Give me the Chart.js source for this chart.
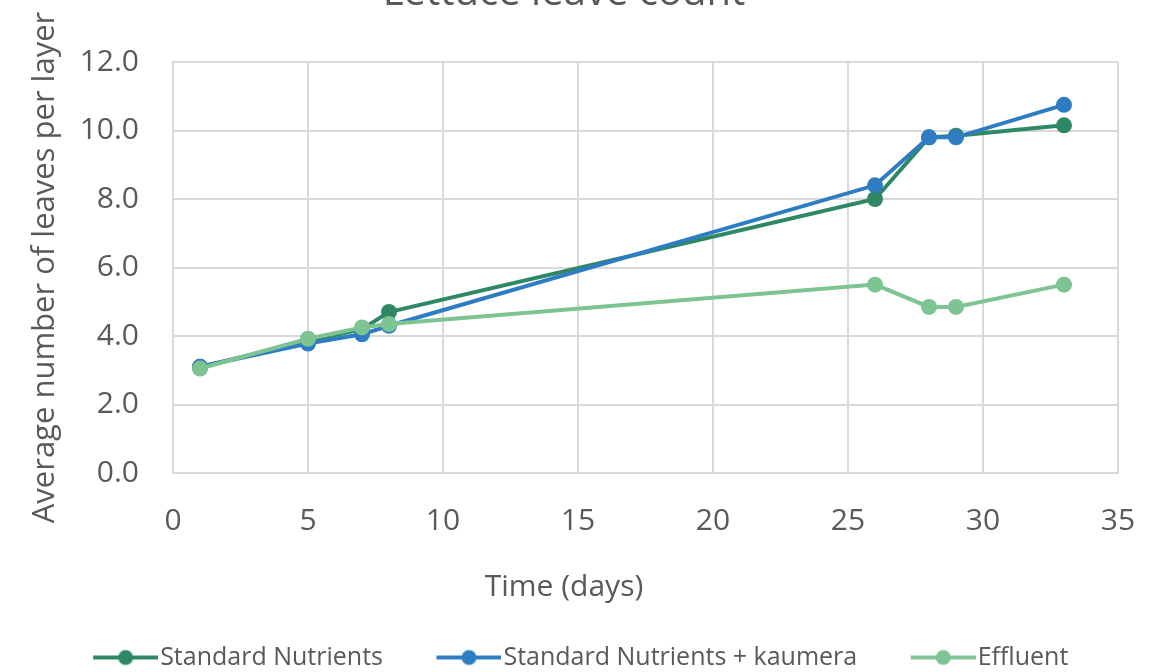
<!DOCTYPE html>
<html>
<head>
<meta charset="utf-8">
<script src="https://cdn.jsdelivr.net/npm/chart.js@4/dist/chart.umd.min.js"></script>
<style>
  html, body { margin: 0; padding: 0; background: #ffffff; overflow: hidden; width: 1168px; height: 672px; }
  #wrap { position: absolute; left: 0; top: -30px; width: 1168px; height: 740px; }
</style>
</head>
<body>
<div id="wrap"><canvas id="c" width="1168" height="740"></canvas></div>
<script>
// Sampling days and average leaf counts per layer
const days = [1, 5, 7, 8, 26, 28, 29, 33];
const standardNutrients = [3.1, 3.85, 4.2, 4.7, 8.0, 9.8, 9.85, 10.15];
const standardKaumera   = [3.1, 3.78, 4.05, 4.3, 8.4, 9.8, 9.8, 10.75];
const effluent          = [3.05, 3.92, 4.25, 4.35, 5.5, 4.85, 4.85, 5.5];

const seriesNames = ['Standard Nutrients', 'Standard Nutrients + kaumera', 'Effluent'];
const seriesColors = ['#2E8864', '#2E7DC2', '#7DC492'];
const seriesValues = [standardNutrients, standardKaumera, effluent];

const xTicks = [0, 5, 10, 15, 20, 25, 30, 35];
const yTicks = [0, 2, 4, 6, 8, 10, 12];

const FONT = "'Open Sans', 'DejaVu Sans', sans-serif";
const TEXT = '#595959';
const GRID = '#d9d9d9';

// Legend marker: short line with a dot, sitting at the right end of the image
const MARK_BOX = 88;
const MARK_IMG = MARK_BOX + 21;
function legendMarker(color) {
  const cv = document.createElement('canvas');
  cv.width = MARK_IMG; cv.height = 20;
  const g = cv.getContext('2d');
  const x1 = MARK_IMG, x0 = MARK_IMG - 65;
  g.strokeStyle = color; g.lineWidth = 4;
  g.beginPath(); g.moveTo(x0, 10); g.lineTo(x1, 10); g.stroke();
  g.fillStyle = color;
  g.beginPath(); g.arc((x0 + x1) / 2, 10, 7.5, 0, Math.PI * 2); g.fill();
  return cv;
}

const datasets = seriesNames.map((name, i) => ({
  label: name,
  data: days.map((d, k) => ({ x: d, y: seriesValues[i][k] })),
  borderColor: seriesColors[i],
  backgroundColor: seriesColors[i],
  pointBackgroundColor: seriesColors[i],
  pointBorderWidth: 0,
  pointRadius: 8,
  borderWidth: 4,
  showLine: true,
  fill: false,
  tension: 0,
  order: seriesNames.length - i,
  pointStyle: 'circle'
}));

const PAD_LEFT = 10;
const Y_AXIS_WIDTH = 163;

new Chart(document.getElementById('c'), {
  type: 'scatter',
  data: { datasets },
  options: {
    responsive: false,
    animation: false,
    layout: { padding: { left: PAD_LEFT, right: 50, top: 0, bottom: 30 } },
    plugins: {
      tooltip: { enabled: false },
      title: {
        display: true,
        text: 'Lettuce leave count',
        color: TEXT,
        font: { family: FONT, size: 40, weight: 'normal' },
        padding: { top: 0, bottom: 44 }
      },
      subtitle: {
        display: true,
        text: 'Time (days)',
        position: 'bottom',
        weight: 500,
        color: TEXT,
        font: { family: FONT, size: 30 },
        padding: { top: 0, bottom: 20 }
      },
      legend: {
        position: 'bottom',
        labels: {
          color: TEXT,
          font: { family: FONT, size: 25 },
          usePointStyle: true,
          pointStyleWidth: MARK_BOX,
          padding: 20,
          generateLabels: (chart) => chart.data.datasets.map((ds, i) => ({
            text: ds.label,
            datasetIndex: i,
            fontColor: TEXT,
            pointStyle: legendMarker(seriesColors[i]),
            strokeStyle: 'transparent',
            fillStyle: 'transparent',
            lineWidth: 0,
            hidden: false
          }))
        }
      }
    },
    scales: {
      x: {
        type: 'linear',
        min: xTicks[0],
        max: xTicks[xTicks.length - 1],
        afterBuildTicks: (s) => { s.ticks = xTicks.map(v => ({ value: v })); },
        grid: { color: GRID, lineWidth: 2, drawTicks: false },
        border: { color: GRID, width: 2 },
        ticks: {
          color: TEXT,
          font: { family: FONT, size: 30 },
          padding: 30,
          maxRotation: 0,
          callback: (v) => String(v)
        },
        title: { display: false }
      },
      y: {
        type: 'linear',
        min: yTicks[0],
        max: yTicks[yTicks.length - 1],
        afterBuildTicks: (s) => { s.ticks = yTicks.map(v => ({ value: v })); },
        afterFit: (s) => { s.width = Y_AXIS_WIDTH; },
        grid: { color: GRID, lineWidth: 2, drawTicks: false },
        border: { color: GRID, width: 2 },
        ticks: {
          color: TEXT,
          font: { family: FONT, size: 30 },
          padding: 34,
          callback: (v) => Number(v).toFixed(1)
        },
        title: {
          display: true,
          text: 'Average number of leaves per layer',
          color: TEXT,
          font: { family: FONT, size: 31 },
          padding: { top: 17, bottom: 0 }
        }
      }
    }
  }
});
</script>
</body>
</html>
